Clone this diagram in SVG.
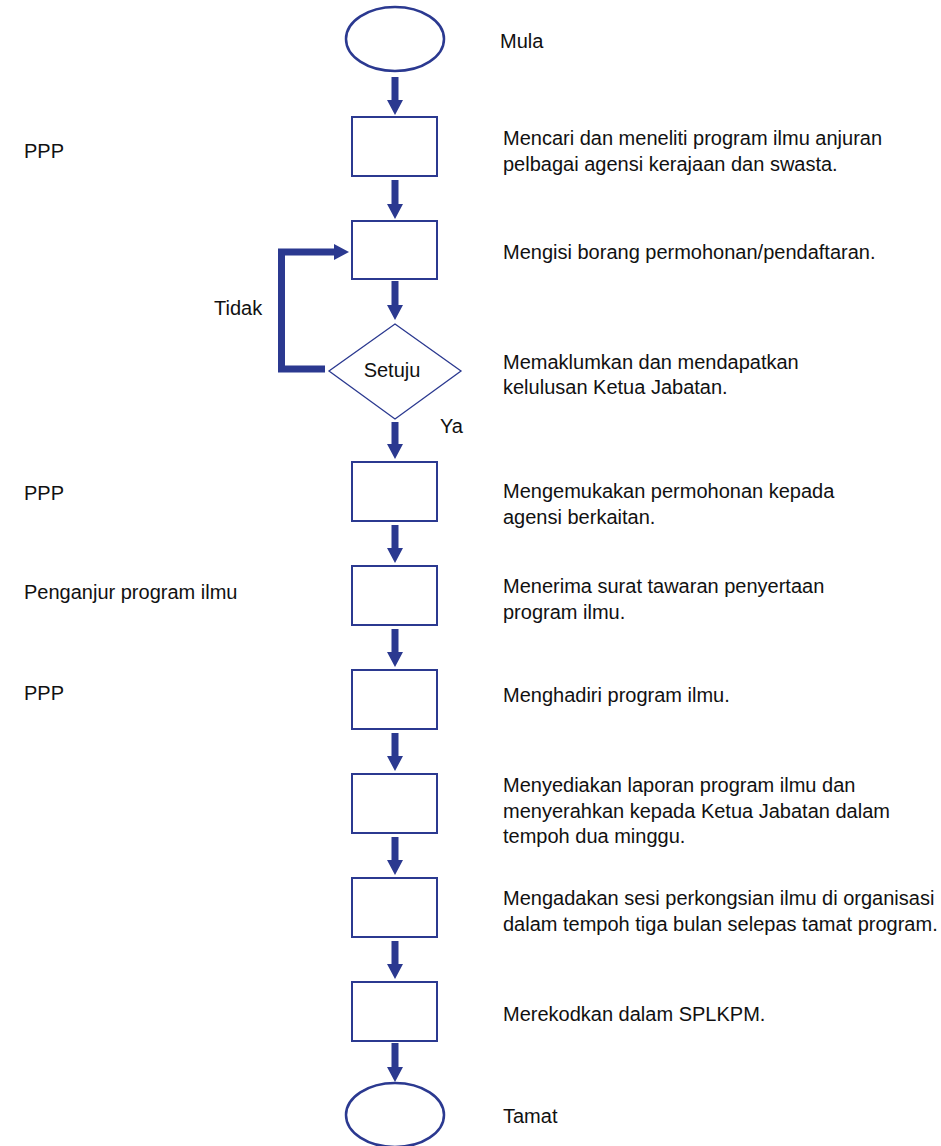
<svg xmlns="http://www.w3.org/2000/svg" width="941" height="1146" viewBox="0 0 941 1146">
<defs>
<style>
.box{fill:#fff;stroke:#2b3990;stroke-width:2}
.term{fill:#fff;stroke:#2b3990;stroke-width:2.5}
.dia{fill:#fff;stroke:#2b3990;stroke-width:1.3}
.conn{fill:none;stroke:#2b3990;stroke-width:7;stroke-linejoin:miter}
.t{font-family:"Liberation Sans",Arial,sans-serif;font-size:20px;fill:#111}
</style>
<marker id="ah" markerUnits="userSpaceOnUse" markerWidth="16" markerHeight="16" viewBox="0 0 15 16" refX="1" refY="8" orient="auto">
<path d="M0,0 L15,8 L0,16 z" fill="#2b3990"/>
</marker>
</defs>
<rect width="941" height="1146" fill="#fff"/>
<g id="connectors">
<line class="conn" x1="395" y1="77" x2="395" y2="101" marker-end="url(#ah)"/>
<line class="conn" x1="395" y1="180" x2="395" y2="205" marker-end="url(#ah)"/>
<line class="conn" x1="395" y1="281" x2="395" y2="306" marker-end="url(#ah)"/>
<line class="conn" x1="395" y1="422" x2="395" y2="445" marker-end="url(#ah)"/>
<line class="conn" x1="395" y1="525" x2="395" y2="549" marker-end="url(#ah)"/>
<line class="conn" x1="395" y1="629" x2="395" y2="653" marker-end="url(#ah)"/>
<line class="conn" x1="395" y1="733" x2="395" y2="757" marker-end="url(#ah)"/>
<line class="conn" x1="395" y1="837" x2="395" y2="861" marker-end="url(#ah)"/>
<line class="conn" x1="395" y1="941" x2="395" y2="965" marker-end="url(#ah)"/>
<line class="conn" x1="395" y1="1043" x2="395" y2="1068" marker-end="url(#ah)"/>
<path class="conn" d="M325,369 H281.5 V252 H335" marker-end="url(#ah)"/>
</g>
<g id="start"><ellipse class="term" cx="395" cy="39" rx="49" ry="32"/></g>
<g id="step1"><rect class="box" x="352" y="117" width="85" height="59"/></g>
<g id="step2"><rect class="box" x="352" y="221" width="85" height="58"/></g>
<g id="decision"><polygon class="dia" points="395,324 461,371 395,419 329,371"/><text class="t" x="392" y="377" text-anchor="middle">Setuju</text></g>
<g id="step3"><rect class="box" x="352" y="462" width="85" height="59"/></g>
<g id="step4"><rect class="box" x="352" y="566" width="85" height="59"/></g>
<g id="step5"><rect class="box" x="352" y="670" width="85" height="59"/></g>
<g id="step6"><rect class="box" x="352" y="774" width="85" height="59"/></g>
<g id="step7"><rect class="box" x="352" y="878" width="85" height="59"/></g>
<g id="step8"><rect class="box" x="352" y="982" width="85" height="59"/></g>
<g id="end"><ellipse class="term" cx="395" cy="1115" rx="49" ry="32"/></g>
<g id="labels">
<text class="t" x="500" y="48">Mula</text>
<text class="t" x="24" y="158">PPP</text>
<text class="t" x="503" y="145">Mencari dan meneliti program ilmu anjuran</text>
<text class="t" x="503" y="171">pelbagai agensi kerajaan dan swasta.</text>
<text class="t" x="503" y="259">Mengisi borang permohonan/pendaftaran.</text>
<text class="t" x="214" y="315">Tidak</text>
<text class="t" x="503" y="369">Memaklumkan dan mendapatkan</text>
<text class="t" x="503" y="394">kelulusan Ketua Jabatan.</text>
<text class="t" x="440" y="433">Ya</text>
<text class="t" x="24" y="500">PPP</text>
<text class="t" x="503" y="498">Mengemukakan permohonan kepada</text>
<text class="t" x="503" y="524">agensi berkaitan.</text>
<text class="t" x="24" y="599">Penganjur program ilmu</text>
<text class="t" x="503" y="593">Menerima surat tawaran penyertaan</text>
<text class="t" x="503" y="619">program ilmu.</text>
<text class="t" x="24" y="700">PPP</text>
<text class="t" x="503" y="702">Menghadiri program ilmu.</text>
<text class="t" x="503" y="792">Menyediakan laporan program ilmu dan</text>
<text class="t" x="503" y="818">menyerahkan kepada Ketua Jabatan dalam</text>
<text class="t" x="503" y="843">tempoh dua minggu.</text>
<text class="t" x="503" y="905">Mengadakan sesi perkongsian ilmu di organisasi</text>
<text class="t" x="503" y="931">dalam tempoh tiga bulan selepas tamat program.</text>
<text class="t" x="503" y="1021">Merekodkan dalam SPLKPM.</text>
<text class="t" x="503" y="1123">Tamat</text>
</g>
</svg>
